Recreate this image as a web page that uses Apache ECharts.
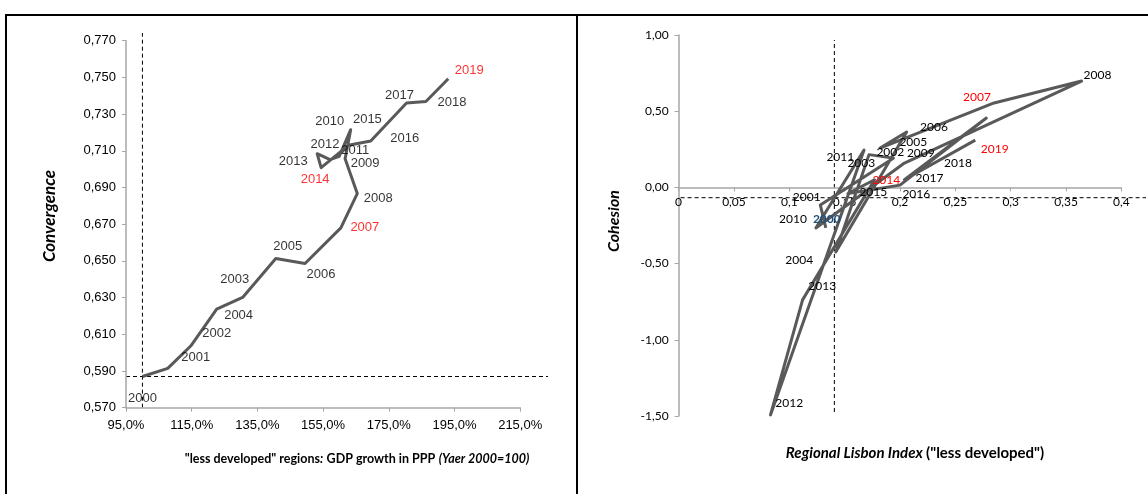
<!DOCTYPE html>
<html><head><meta charset="utf-8">
<script src="https://cdn.jsdelivr.net/npm/echarts@6/dist/echarts.min.js"></script>
<style>html,body{margin:0;padding:0;background:#fff}#c{width:1148px;height:494px}</style>
</head><body><div id="c"></div>
<script>
// ---- Left chart: GDP growth vs Convergence ----
const yearsL = ['2000','2001','2002','2003','2004','2005','2006','2007','2008','2009','2010','2011','2012','2013','2014','2015','2016','2017','2018','2019'];
const gdpGrowth = [100, 107.7, 114.7, 122.6, 130.5, 140.6, 149.5, 160.4, 165.4, 161.7, 163.4, 159.9, 157.1, 153.2, 154.4, 162.7, 169.5, 180.4, 186.3, 193.1];
const convergence = [0.587, 0.5914, 0.6036, 0.6237, 0.6301, 0.6513, 0.6486, 0.668, 0.6867, 0.7057, 0.7215, 0.707, 0.7052, 0.7084, 0.7008, 0.713, 0.7153, 0.736, 0.7369, 0.7493];
const leftRefX = 100, leftRefY = 0.587;
const leftXTicks = {min: 95, max: 215, interval: 20};
const leftYTicks = {min: 0.57, max: 0.77, interval: 0.02};

// ---- Right chart: Regional Lisbon Index vs Cohesion ----
const yearsR = ['2000','2001','2002','2003','2004','2005','2006','2007','2008','2009','2010','2011','2012','2013','2014','2015','2016','2017','2018','2019'];
const lisbonIndex = [0.133, 0.128, 0.194, 0.172, 0.142, 0.206, 0.182, 0.285, 0.364, 0.204, 0.124, 0.1675, 0.083, 0.112, 0.177, 0.153, 0.200, 0.278, 0.204, 0.268];
const cohesion = [-0.266, -0.115, 0.192, 0.215, -0.424, 0.363, 0.258, 0.554, 0.698, 0.160, -0.266, 0.245, -1.493, -0.738, 0.05, -0.04, 0.015, 0.455, 0.05, 0.31];
const rightRefX = 0.1407, rightRefY = -0.0676;
const rightXTicks = {min: 0, max: 0.4, interval: 0.05};
const rightYTicks = {min: -1.5, max: 1, interval: 0.5};

const redYears = ['2007','2014','2019'];
// label offsets (style): [dx, dy] from point
const offL = {'2000':[0,22],'2001':[28,-11],'2002':[26,-13],'2003':[18,-30],'2004':[-4,18],'2005':[12,-12],'2006':[16,11],'2007':[24,0],'2008':[21,5],'2009':[20,5],'2010':[-21,-8],'2011':[16,-6],'2012':[-5,-15],'2013':[-24,8],'2014':[-6,12],'2015':[19,-26],'2016':[34,-3],'2017':[-7,-8],'2018':[26,1],'2019':[21,-8]};
const labPosR = {'2000':[826.8,219.3],'2001':[806.7,197.3],'2002':[890.3,151.7],'2003':[861.3,163.3],'2004':[799.2,260],'2005':[913.3,141.7],'2006':[934,126.7],'2007':[977,97.3],'2008':[1097.5,75],'2009':[920.8,153.3],'2010':[793,219.3],'2011':[840.3,157.3],'2012':[789.2,403.3],'2013':[822.2,286],'2014':[886.3,180],'2015':[873.3,192.3],'2016':[916.3,194],'2017':[929.5,177.7],'2018':[958,163.3],'2019':[994.7,149.3]};

const comma = (s) => s.replace('.', ',');
const lineColor = '#595959';
const axisGray = '#a6a6a6';
const gridR = {left: 678.6, top: 35, width: 442.8, height: 381};

const chart = echarts.init(document.getElementById('c'));

function labelData(xs, ys, years, offs, font, size) {
  return years.map((y, i) => ({
    value: [xs[i], ys[i]],
    label: {
      show: true, formatter: y, position: 'inside',
      offset: offs[y],
      color: redYears.includes(y) ? '#ff0000' : '#000',
      fontFamily: font, fontSize: size
    }
  }));
}

// x axis of right chart sits on cohesion = 0
const zeroOffset = -((0 - rightYTicks.min) / (rightYTicks.max - rightYTicks.min)) * gridR.height;

const option = {
  animation: false,
  grid: [
    {left: 126, top: 40.7, width: 394.2, height: 367, containLabel: false},
    Object.assign({containLabel: false}, gridR)
  ],
  xAxis: [
    {gridIndex: 0, type: 'value', min: leftXTicks.min, max: leftXTicks.max, interval: leftXTicks.interval,
     axisLine: {onZero: false, lineStyle: {color: axisGray, width: 1.5}}, axisTick: {show: true, inside: false, length: 4, lineStyle: {color: axisGray}},
     splitLine: {show: false},
     axisLabel: {margin: 11, color: '#000', fontFamily: 'Liberation Sans', fontSize: 13, formatter: v => comma(v.toFixed(1)) + '%'}},
    {gridIndex: 1, type: 'value', position: 'bottom', offset: zeroOffset,
     min: rightXTicks.min, max: rightXTicks.max, interval: rightXTicks.interval,
     axisLine: {onZero: false, lineStyle: {color: axisGray, width: 1.5}}, axisTick: {show: true, length: 4, lineStyle: {color: axisGray}},
     splitLine: {show: false},
     axisLabel: {margin: 9, color: '#000', fontFamily: 'Lato', fontSize: 12, formatter: v => { const r = Math.round(v*100)/100; return r === 0 ? '0' : comma(String(r)); }}}
  ],
  yAxis: [
    {gridIndex: 0, type: 'value', min: leftYTicks.min, max: leftYTicks.max, interval: leftYTicks.interval,
     axisLine: {show: true, onZero: false, lineStyle: {color: axisGray, width: 1.5}}, axisTick: {show: true, length: 4, lineStyle: {color: axisGray}},
     splitLine: {show: false},
     axisLabel: {margin: 10, color: '#000', fontFamily: 'Liberation Sans', fontSize: 13, formatter: v => comma(v.toFixed(3))}},
    {gridIndex: 1, type: 'value', min: rightYTicks.min, max: rightYTicks.max, interval: rightYTicks.interval,
     axisLine: {show: true, onZero: false, lineStyle: {color: axisGray, width: 1.5}}, axisTick: {show: true, length: 4, lineStyle: {color: axisGray}},
     splitLine: {show: false},
     axisLabel: {margin: 10, color: '#000', fontFamily: 'Lato', fontSize: 12, formatter: v => comma(v.toFixed(2))}}
  ],
  series: [
    {type: 'lines', coordinateSystem: 'cartesian2d', xAxisIndex: 0, yAxisIndex: 0, polyline: true,
     symbol: ['none', 'arrow'], symbolSize: 11,
     lineStyle: {color: lineColor, width: 3, opacity: 1, join: 'round'},
     data: [{coords: gdpGrowth.map((x, i) => [x, convergence[i]])}], z: 3},
    {type: 'scatter', xAxisIndex: 0, yAxisIndex: 0, symbolSize: 0, silent: true, z: 4,
     data: labelData(gdpGrowth, convergence, yearsL, offL, 'Liberation Sans', 13)},
    {type: 'lines', coordinateSystem: 'cartesian2d', xAxisIndex: 1, yAxisIndex: 1, polyline: true,
     symbol: ['none', 'arrow'], symbolSize: 11,
     lineStyle: {color: lineColor, width: 3, opacity: 1, join: 'round'},
     data: [{coords: lisbonIndex.map((x, i) => [x, cohesion[i]])}], z: 3}
  ]
};
chart.setOption(option);

// reference dashed lines via library scales
const pL = chart.convertToPixel({gridIndex: 0}, [leftRefX, leftRefY]);
const pR = chart.convertToPixel({gridIndex: 1}, [rightRefX, rightRefY]);
const g0 = chart.convertToPixel({gridIndex: 0}, [leftXTicks.min, leftYTicks.min]);
const g1 = chart.convertToPixel({gridIndex: 1}, [rightXTicks.min, rightYTicks.min]);
const dash = {stroke: '#000', lineWidth: 1, lineDash: [4, 3]};
const graphics = [
  {type: 'line', shape: {x1: 5, y1: 15, x2: 1148, y2: 15}, style: {stroke: '#000', lineWidth: 2}},
  {type: 'line', shape: {x1: 6, y1: 15, x2: 6, y2: 494}, style: {stroke: '#000', lineWidth: 2}},
  {type: 'line', shape: {x1: 577, y1: 15, x2: 577, y2: 494}, style: {stroke: '#000', lineWidth: 2}},
  {type: 'line', shape: {x1: pL[0], y1: g0[1], x2: pL[0], y2: 33}, style: dash},
  {type: 'line', shape: {x1: g0[0], y1: pL[1], x2: 548, y2: pL[1]}, style: dash},
  {type: 'line', shape: {x1: pR[0], y1: 412, x2: pR[0], y2: 40}, style: dash},
  {type: 'line', shape: {x1: g1[0] + 2, y1: pR[1], x2: 1146, y2: pR[1]}, style: dash},
  {type: 'text', rotation: Math.PI / 2, x: 50, y: 216, style: {text: 'Convergence', font: 'italic bold 17px Lato', fill: '#000', textAlign: 'center', textVerticalAlign: 'middle'}},
  {type: 'text', rotation: Math.PI / 2, x: 614, y: 221, style: {text: 'Cohesion', font: 'italic bold 16px Lato', fill: '#000', textAlign: 'center', textVerticalAlign: 'middle'}},
  {type: 'text', x: 357, y: 459, style: {
    text: '{a|"less developed" regions}{b|:} {a|GDP growth in PPP} {b|(Yaer 2000=100)}',
    rich: {a: {font: 'bold 12.5px Lato', fill: '#000'}, b: {font: 'italic bold 12.5px Lato', fill: '#000'}},
    textAlign: 'center', textVerticalAlign: 'middle'}},
  {type: 'text', x: 915, y: 453, style: {
    text: '{b|Regional Lisbon Index} {a|("less developed")}',
    rich: {a: {font: 'bold 15px Lato', fill: '#000'}, b: {font: 'italic bold 15px Lato', fill: '#000'}},
    textAlign: 'center', textVerticalAlign: 'middle'}}
];
// right chart year labels
yearsR.forEach((y) => {
  const lp = labPosR[y];
  graphics.push({type: 'text', x: lp[0], y: lp[1], z: 10, style: {
    text: y, font: (y === '2000' ? 'bold ' : '') + '12px Lato',
    fill: y === '2000' ? '#1f4e79' : (redYears.includes(y) ? '#ff0000' : '#000'),
    textAlign: 'center', textVerticalAlign: 'middle'}});
});
chart.setOption({graphic: graphics});
</script></body></html>
